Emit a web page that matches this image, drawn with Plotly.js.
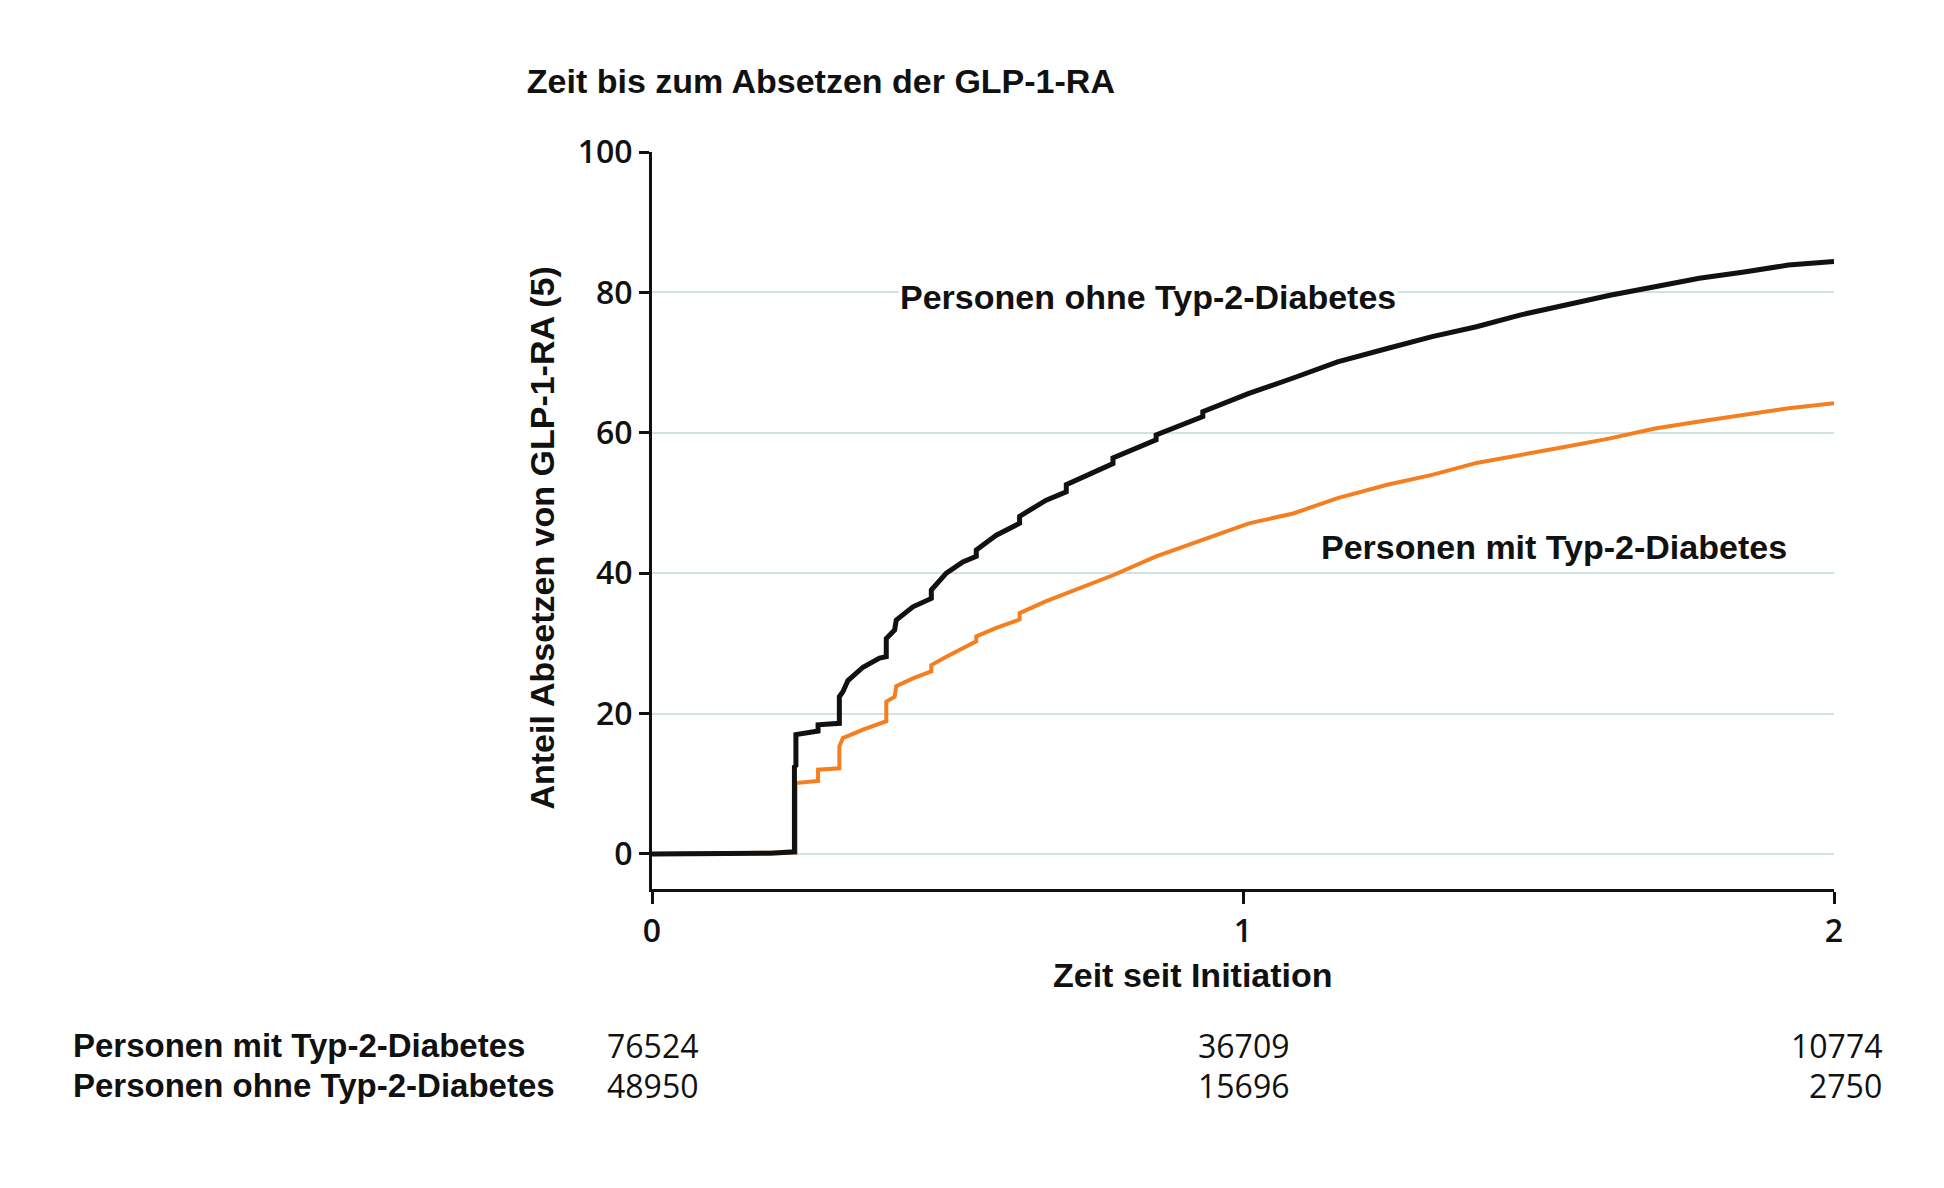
<!DOCTYPE html>
<html lang="de">
<head>
<meta charset="utf-8">
<title>Zeit bis zum Absetzen der GLP-1-RA</title>
<script src="https://cdn.plot.ly/plotly-3.0.1.min.js"></script>
<style>
  html, body { margin: 0; padding: 0; background: #fff; }
  #chart { width: 1944px; height: 1188px; }
</style>
</head>
<body>
<div id="chart"></div>
<script>
// Cumulative share discontinuing GLP-1-RA (%).
// Repeated x values are the vertical steps of the curve.
const ohneX = [0, 0.20, 0.241, 0.241, 0.2435, 0.2435, 0.281, 0.281, 0.317, 0.317,
  0.323, 0.3315, 0.357, 0.385, 0.3964, 0.3964, 0.4105, 0.4133, 0.4415, 0.4726,
  0.4726, 0.498, 0.526, 0.5487, 0.5487, 0.5826, 0.622, 0.622, 0.667, 0.701,
  0.701, 0.7406, 0.780, 0.780, 0.853, 0.853, 0.932, 0.932, 1.010, 1.085,
  1.160, 1.244, 1.320, 1.395, 1.470, 1.546, 1.621, 1.697, 1.772, 1.848,
  1.923, 2.0];
const ohneY = [0, 0.1, 0.3, 12.4, 12.6, 17.0, 17.5, 18.4, 18.6, 22.4,
  23.1, 24.7, 26.6, 27.9, 28.1, 30.7, 31.9, 33.3, 35.2, 36.4,
  37.6, 40.0, 41.6, 42.4, 43.3, 45.4, 47.1, 48.1, 50.4, 51.6,
  52.6, 54.2, 55.6, 56.4, 59.0, 59.7, 62.3, 63.0, 65.6, 67.8,
  70.1, 72.0, 73.7, 75.1, 76.8, 78.2, 79.6, 80.8, 82.0, 82.9,
  83.9, 84.4];

const mitX = [0, 0.243, 0.243, 0.281, 0.281, 0.317, 0.317, 0.323, 0.357, 0.3964,
  0.3964, 0.4105, 0.4133, 0.4415, 0.4726, 0.4726, 0.498, 0.5487, 0.5487, 0.5826,
  0.622, 0.622, 0.667, 0.701, 0.7406, 0.780, 0.853, 0.932, 1.010, 1.085,
  1.160, 1.244, 1.320, 1.395, 1.470, 1.546, 1.621, 1.697, 1.772, 1.848,
  1.923, 2.0];
const mitY = [0, 0.2, 10.1, 10.4, 12.0, 12.2, 15.3, 16.5, 17.7, 18.9,
  21.7, 22.4, 23.9, 25.0, 26.0, 26.9, 28.1, 30.3, 31.0, 32.2,
  33.4, 34.3, 36.0, 37.1, 38.5, 39.7, 42.4, 44.8, 47.1, 48.5,
  50.7, 52.6, 54.0, 55.7, 56.8, 58.0, 59.2, 60.6, 61.6, 62.5,
  63.5, 64.2];

// number at risk table
const riskTimes = [0, 1, 2];
const riskMit = ["76524", "36709", "10774"];
const riskOhne = ["48950", "15696", "2750"];
const groupLabels = ["Personen mit Typ-2-Diabetes", "Personen ohne Typ-2-Diabetes"];

const yTicks = [0, 20, 40, 60, 80, 100];
const xTicks = [0, 1, 2];

const BLACK = "#111111";
const ORANGE = "#f57f20";
const GRID = "#cfe4e2";
const BOLD = "Liberation Sans, Arial, sans-serif";
const NUM = "Open Sans, sans-serif";

const traces = [
  {
    x: mitX, y: mitY, type: "scatter", mode: "lines",
    line: { color: ORANGE, width: 4 },
    name: groupLabels[0], hoverinfo: "skip",
  },
  {
    x: ohneX, y: ohneY, type: "scatter", mode: "lines",
    line: { color: BLACK, width: 5 },
    name: groupLabels[1], hoverinfo: "skip",
  },
];

const boldFont = { family: BOLD, size: 34, color: BLACK };
const tickFont = { family: NUM, size: 32, color: BLACK, weight: 600 };

const annotations = [
  // axis titles, placed by hand to sit where the original has them
  {
    xref: "paper", yref: "paper", x: -0.0927, y: 0.476,
    xanchor: "center", yanchor: "middle",
    text: "<b>Anteil Absetzen von GLP-1-RA (5)</b>", textangle: -90,
    showarrow: false, font: boldFont,
  },
  {
    xref: "paper", yref: "paper", x: 0.4575, y: -0.1167,
    xanchor: "center", yanchor: "middle",
    text: "<b>Zeit seit Initiation</b>",
    showarrow: false, font: boldFont,
  },
  // curve labels
  {
    xref: "x", yref: "y", x: 0.839, y: 79.4,
    xanchor: "center", yanchor: "middle",
    text: "<b>" + groupLabels[1] + "</b>", bgcolor: "#ffffff",
    showarrow: false, font: boldFont,
  },
  {
    xref: "x", yref: "y", x: 1.526, y: 43.7,
    xanchor: "center", yanchor: "middle",
    text: "<b>" + groupLabels[0] + "</b>", bgcolor: "#ffffff",
    showarrow: false, font: boldFont,
  },
];

// risk table rows
const rowY = [-0.212, -0.266];
[riskMit, riskOhne].forEach((row, r) => {
  annotations.push({
    xref: "paper", yref: "paper", x: -0.4913, y: rowY[r],
    xanchor: "left", yanchor: "middle",
    text: "<b>" + groupLabels[r] + "</b>",
    showarrow: false, font: { family: BOLD, size: 33, color: BLACK },
  });
  row.forEach((n, i) => {
    const last = i === row.length - 1;
    annotations.push({
      xref: "x", yref: "paper", x: riskTimes[i], y: rowY[r],
      xanchor: last ? "right" : "center", yanchor: "middle", xshift: last ? 50 : 0,
      text: n, showarrow: false,
      font: { family: NUM, size: 32, color: BLACK, weight: 500 },
    });
  });
});

const layout = {
  width: 1944,
  height: 1188,
  paper_bgcolor: "#ffffff",
  plot_bgcolor: "#ffffff",
  margin: { l: 652, r: 110, t: 152, b: 299, pad: 0 },
  showlegend: false,
  title: {
    text: "<b>Zeit bis zum Absetzen der GLP-1-RA</b>",
    font: boldFont,
    xref: "container", yref: "container",
    x: 0.271, xanchor: "left", y: 0.932, yanchor: "middle",
  },
  xaxis: {
    range: [0, 2], tickvals: xTicks, ticktext: xTicks.map(String),
    showgrid: false, zeroline: false,
    showline: true, linecolor: BLACK, linewidth: 3,
    ticks: "outside", ticklen: 12, tickwidth: 3, tickcolor: BLACK,
    tickfont: tickFont,
  },
  yaxis: {
    range: [-5, 100], tickvals: yTicks, ticktext: yTicks.map(String),
    showgrid: true, gridcolor: GRID, gridwidth: 2, zeroline: false,
    showline: true, linecolor: BLACK, linewidth: 3,
    ticks: "outside", ticklen: 10, tickwidth: 3, tickcolor: BLACK,
    tickfont: tickFont,
  },
  annotations,
};

Plotly.newPlot("chart", traces, layout, { staticPlot: true, displayModeBar: false });
</script>
</body>
</html>
